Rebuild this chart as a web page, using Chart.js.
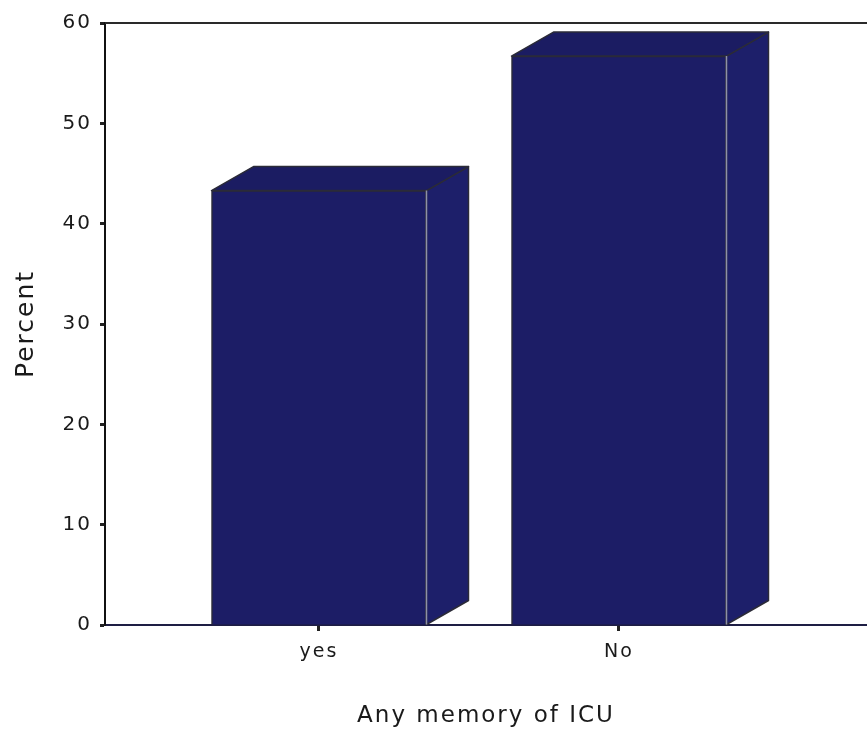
<!DOCTYPE html>
<html>
<head>
<meta charset="utf-8">
<script src="https://cdn.jsdelivr.net/npm/chart.js@4.4.1/dist/chart.umd.min.js"></script>
<style>
  html, body { margin: 0; padding: 0; background: #fff; }
  #wrap { width: 867px; height: 735px; }
</style>
</head>
<body>
<div id="wrap"><canvas id="myChart"></canvas></div>
<script>
const categories = ['yes', 'No'];
const percentValues = [43.3, 56.7];
const yTicks = [0, 10, 20, 30, 40, 50, 60];

// faces 3D (dessus + côté) ajoutées sur chaque barre
const bars3d = {
  id: 'bars3d',
  beforeDraw(chart) {
    chart.ctx.letterSpacing = '2px';
  },
  afterDatasetsDraw(chart) {
    const ctx = chart.ctx;
    const dx = 42, dy = 24;
    chart.getDatasetMeta(0).data.forEach(bar => {
      const l = bar.x - bar.width / 2;
      const r = bar.x + bar.width / 2;
      const t = bar.y, b = bar.base;
      ctx.save();
      ctx.lineJoin = 'round';
      ctx.strokeStyle = '#2b2b38';
      ctx.lineWidth = 1.5;
      ctx.beginPath();
      ctx.moveTo(r, t); ctx.lineTo(r + dx, t - dy); ctx.lineTo(r + dx, b - dy); ctx.lineTo(r, b);
      ctx.closePath();
      ctx.fillStyle = '#1d1f6a';
      ctx.fill(); ctx.stroke();
      ctx.beginPath();
      ctx.moveTo(l, t); ctx.lineTo(l + dx, t - dy); ctx.lineTo(r + dx, t - dy); ctx.lineTo(r, t);
      ctx.closePath();
      ctx.fillStyle = '#1b1c62';
      ctx.fill(); ctx.stroke();
      // arête avant droite plus claire
      ctx.beginPath();
      ctx.moveTo(r, t); ctx.lineTo(r, b);
      ctx.strokeStyle = '#8d90a8';
      ctx.stroke();
      ctx.restore();
    });
  },
  afterDraw(chart) {
    const { ctx, chartArea } = chart;
    ctx.save();
    ctx.strokeStyle = '#2a2a2a';
    ctx.lineWidth = 2;
    ctx.beginPath();
    ctx.moveTo(chartArea.left, chartArea.top);
    ctx.lineTo(chartArea.right, chartArea.top);
    ctx.stroke();
    ctx.restore();
  }
};

Chart.defaults.font.family = '"DejaVu Sans", sans-serif';
Chart.defaults.color = '#1a1a1a';

const ctx = document.getElementById('myChart').getContext('2d');

let chart = new Chart(ctx, {
  type: 'bar',
  data: {
    datasets: [{
      label: 'Percent',
      data: percentValues.map((v, i) => ({ x: i + 1, y: v })),
      backgroundColor: '#1c1d66',
      borderColor: '#2b2b38',
      borderWidth: 1.5,
      barThickness: 215
    }]
  },
  options: {
    responsive: true,
    maintainAspectRatio: false,
    animation: false,
    layout: { padding: { left: 0, right: 0, top: 23, bottom: 0 } },
    plugins: { legend: { display: false }, tooltip: { enabled: false } },
    scales: {
      x: {
        type: 'linear',
        offset: false,
        min: 0.2867,
        max: 2.8267,
        afterBuildTicks: s => { s.ticks = categories.map((c, i) => ({ value: i + 1 })); },
        ticks: {
          callback: v => categories[v - 1],
          padding: 10,
          font: { size: 19 },
          autoSkip: false,
          maxRotation: 0
        },
        grid: { offset: false, drawOnChartArea: false, tickLength: 6, tickWidth: 3, tickColor: '#222' },
        border: { color: '#1e1e44', width: 2 },
        title: {
          display: true,
          text: 'Any memory of ICU',
          font: { size: 23 },
          padding: { top: 0, bottom: 5 }
        },
        afterFit: s => { s.height = 110; }
      },
      y: {
        min: 0,
        max: 60,
        afterBuildTicks: s => { s.ticks = yTicks.map(v => ({ value: v })); },
        ticks: { padding: 8, font: { size: 20 } },
        grid: { drawOnChartArea: false, tickLength: 5, tickWidth: 3, tickColor: '#222' },
        border: { color: '#111', width: 2 },
        title: {
          display: true,
          text: 'Percent',
          font: { size: 25 },
          padding: { top: 11, bottom: 0 }
        },
        afterFit: s => { s.width = 105; }
      }
    }
  },
  plugins: [bars3d]
});
</script>
</body>
</html>
